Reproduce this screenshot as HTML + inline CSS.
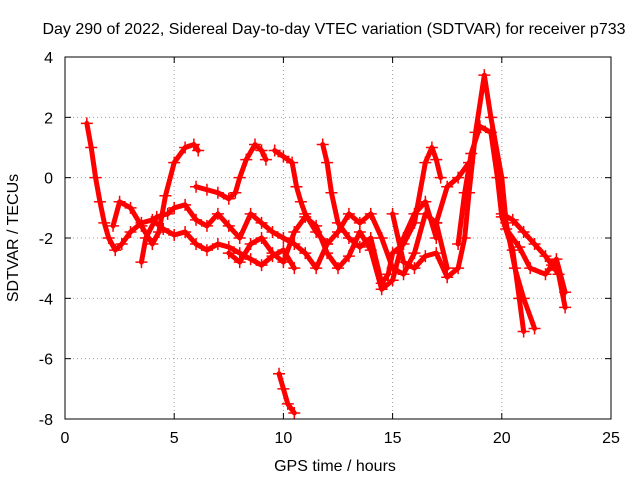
<!DOCTYPE html>
<html><head><meta charset="utf-8"><style>
body{margin:0;background:#fff;}
svg{display:block;font-family:"Liberation Sans",sans-serif;}
</style></head><body>
<svg id="chart" width="640" height="480">
<text x="334" y="34" font-size="16" text-anchor="middle">Day 290 of 2022, Sidereal Day-to-day VTEC variation (SDTVAR) for receiver p733</text>
<text x="335" y="471" font-size="16" text-anchor="middle">GPS time / hours</text>
<text transform="translate(18,238) rotate(-90)" font-size="16" text-anchor="middle">SDTVAR / TECUs</text>
<g id="grid"></g><g id="series"></g>
<rect x="65" y="57" width="546" height="362" fill="none" stroke="#000" stroke-width="1"/>
</svg>
<script>
const xTicks=[0,5,10,15,20,25];
const yTicks=[4,2,0,-2,-4,-6,-8];
const trackA=[[1.0,1.8],[1.2,1.0],[1.4,0],[1.6,-0.8],[1.8,-1.5],[2.0,-2.0],[2.3,-2.4],[2.6,-2.2],[3.0,-1.8],[3.5,-1.5],[4.0,-1.4],[4.5,-1.7],[5.0,-1.9],[5.5,-1.8],[6.0,-2.2],[6.5,-2.4],[7.0,-2.2],[7.5,-2.3],[8.0,-2.5],[8.5,-2.7],[9.0,-2.9],[9.5,-2.6],[10.0,-2.4],[10.5,-3.0]];
const trackB=[[2.2,-1.6],[2.5,-0.8],[3.0,-1.0],[3.5,-1.6],[4.0,-2.2],[4.3,-1.8],[4.6,-0.6],[5.0,0.5],[5.5,1.0],[5.9,1.1],[6.1,0.9]];
const trackC=[[3.5,-2.8],[3.7,-2.0],[4.2,-1.3],[4.7,-1.2],[5.0,-1.0],[5.5,-0.9],[6.0,-1.4],[6.5,-1.6],[7.0,-1.2],[7.5,-1.6],[8.0,-2.0],[8.5,-1.2],[9.0,-1.5],[9.5,-1.8],[10.0,-2.0],[10.5,-2.2],[11.0,-2.5],[11.5,-3.0],[12.0,-2.2],[12.5,-1.8],[13.0,-1.2],[13.5,-1.5],[14.0,-1.2],[14.5,-2.0],[15.0,-3.0],[15.5,-3.2],[16.0,-2.5],[16.5,-1.2],[17.0,-1.5],[17.5,-3.0]];
const trackD=[[6.0,-0.3],[6.5,-0.4],[7.0,-0.5],[7.5,-0.7],[7.8,-0.5],[8.0,0],[8.3,0.6],[8.7,1.1],[9.0,0.9],[9.2,0.6]];
const trackE=[[9.6,0.9],[10.0,0.7],[10.4,0.5],[10.6,-0.3],[10.8,-0.8],[11.0,-1.2],[11.5,-1.8],[12.0,-2.2]];
const trackF=[[9.8,-6.5],[10.0,-7.0],[10.2,-7.5],[10.5,-7.8]];
const trackG=[[11.8,1.1],[12.0,0.5],[12.2,-0.5],[12.5,-1.5],[13.0,-2.0],[13.5,-2.3],[14.0,-2.0],[14.5,-3.5],[14.8,-3.2],[15.0,-2.5],[15.5,-2.2],[16.0,-1.5],[16.5,0.5],[16.8,1.0],[17.0,0.6],[17.2,0.0]];
const trackH=[[15.0,-1.2],[15.5,-2.8],[16.0,-3.0],[16.5,-2.6],[17.0,-2.5],[17.5,-3.3],[18.0,-3.0],[18.3,-2.0],[18.5,-0.5],[18.8,1.5],[19.2,3.4],[19.5,2.0],[20.0,0],[20.2,-1.5],[20.6,-3.0],[21.0,-4.0],[21.5,-5.0]];
const trackI=[[18.0,-2.2],[18.3,-0.5],[18.6,0.8],[19.0,1.7],[19.5,1.5],[19.8,0],[20.0,-1.3],[20.5,-2.4],[20.8,-4.0],[21.0,-5.1]];
const trackJ=[[20.0,-1.2],[20.5,-1.4],[21.0,-1.8],[21.5,-2.2],[22.0,-2.6],[22.3,-2.9],[22.6,-3.2],[22.9,-4.3]];
const trackK=[[20.2,-1.7],[20.8,-2.3],[21.3,-3.0],[22.0,-3.2],[22.5,-2.7],[22.9,-3.8]];
const trackL=[[7.5,-2.5],[8.0,-2.8],[8.5,-2.2],[9.0,-2.0],[9.5,-2.5],[10.0,-2.8],[10.5,-1.8],[11.0,-1.3],[11.5,-1.6],[12.0,-2.5],[12.5,-3.0],[13.0,-2.6],[13.5,-1.8],[14.0,-2.4],[14.5,-3.7],[15.0,-3.4],[15.5,-2.0],[16.0,-1.2],[16.5,-0.8],[17.0,-2.0]];
const trackM=[[17.0,-1.5],[17.5,-0.3],[18.0,0],[18.5,0.5]];
const tracks=[trackA,trackB,trackC,trackD,trackE,trackF,trackG,trackH,trackI,trackJ,trackK,trackL,trackM];

const NS="http://www.w3.org/2000/svg";
const X0=65,X1=611,Y0=419,Y1=57;
function sx(v){return X0+(v-0)/(25-0)*(X1-X0);}
function sy(v){return Y0-(v+8)/(4+8)*(Y0-Y1);}
const grid=document.getElementById('grid'),ser=document.getElementById('series');
function mk(t,a,p){const e=document.createElementNS(NS,t);for(const k in a)e.setAttribute(k,a[k]);p.appendChild(e);return e;}
xTicks.forEach(v=>{
  const x=sx(v);
  if(v>0&&v<25){const g=mk('line',{x1:x,y1:Y0,x2:x,y2:Y1,stroke:'#a0a0a0','stroke-dasharray':'1,3'},grid);
  
  }
  mk('line',{x1:x,y1:Y0,x2:x,y2:Y0-6,stroke:'#000'},grid);
  mk('line',{x1:x,y1:Y1,x2:x,y2:Y1+6,stroke:'#000'},grid);
  const t=mk('text',{x:x,y:Y0+24,'font-size':16,'text-anchor':'middle'},grid);t.textContent=v;
  
  
});
yTicks.forEach(v=>{
  const y=sy(v);
  if(v>-8&&v<4){const g=mk('line',{x1:X0,y1:y,x2:X1,y2:y,stroke:'#a0a0a0','stroke-dasharray':'1,3'},grid);
  
  }
  mk('line',{x1:X0,y1:y,x2:X0+6,y2:y,stroke:'#000'},grid);
  mk('line',{x1:X1,y1:y,x2:X1-6,y2:y,stroke:'#000'},grid);
  const t=mk('text',{x:X0-12,y:y+6,'font-size':16,'text-anchor':'end'},grid);t.textContent=v;
  
  
});
tracks.forEach(tr=>{
  const pl=mk('polyline',{points:tr.map(p=>sx(p[0])+','+sy(p[1])).join(' '),fill:'none',stroke:'#ff0000','stroke-width':5,'stroke-linejoin':'round','stroke-linecap':'round'},ser);
  
  
  tr.forEach(p=>{
    const x=sx(p[0]),y=sy(p[1]);
    const m=mk('path',{d:`M${x-6},${y}H${x+6}M${x},${y-6}V${y+6}`,stroke:'#ff0000','stroke-width':1.5},ser);
    
    
  });
});
</script>
</body></html>
